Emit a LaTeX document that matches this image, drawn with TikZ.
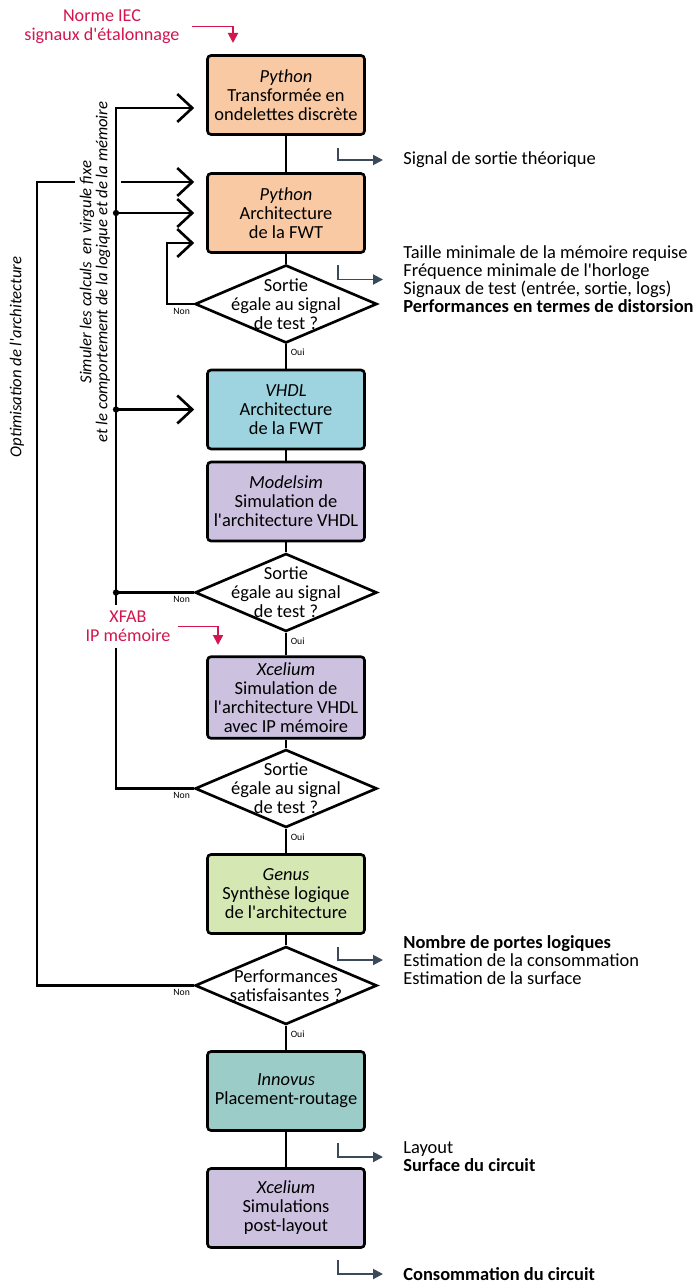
\documentclass[tikz,border=0pt]{standalone}
\usepackage{fontspec}
\setmainfont{Carlito}[Ligatures=TeXOff]
\usetikzlibrary{arrows.meta, shapes.geometric, calc}

\definecolor{peche}{HTML}{F8C9A3}
\definecolor{bleuclair}{HTML}{9DD4E0}
\definecolor{lavande}{HTML}{CCC2E0}
\definecolor{vertclair}{HTML}{D5E8B3}
\definecolor{turquoise}{HTML}{9CCCC8}
\definecolor{rougeiec}{HTML}{D3164F}
\definecolor{ardoise}{HTML}{3B4A59}

\begin{document}
\begin{tikzpicture}[x=0.02cm, y=-0.02cm,
    etape/.style={draw, line width=1.5pt, rounded corners=2pt, minimum width=3.14cm, minimum height=1.58cm, align=center, font=\fontsize{10.5}{10.8}\selectfont},
    test/.style={draw, diamond, line width=1.5pt, minimum width=3.64cm, minimum height=1.56cm, inner sep=0pt},
    texte/.style={align=center, font=\fontsize{10.5}{10.8}\selectfont},
    resultat/.style={anchor=west, inner sep=0pt, align=left, font=\fontsize{10.5}{10.3}\selectfont},
    petit/.style={font=\fontsize{5.5}{6}\selectfont, inner sep=2pt},
    ligne/.style={line width=1.5pt},
    fleche/.style={line width=1.5pt, -{Straight Barb[length=0.3cm, width=0.56cm]}, shorten >=0.24cm},
    sortie/.style={draw=ardoise, line width=1.1pt, -{Triangle[length=0.2cm, width=0.2cm]}, shorten >=0.4cm},
    entree/.style={draw=rougeiec, line width=1.1pt, -{Triangle[length=0.2cm, width=0.2cm]}},
    note/.style={text=rougeiec, align=center, font=\fontsize{10.3}{10.8}\selectfont},
    boucle/.style={rotate=90, align=center, font=\fontsize{9.5}{9.2}\selectfont\itshape}]
    \useasboundingbox (0,0) rectangle (696,1283);

    % etapes du flot
    \node[etape, fill=peche] (b1) at (286,95) {\textit{Python}\\Transformée en\\ondelettes discrète};
    \node[etape, fill=peche] (b2) at (286,213) {\textit{Python}\\Architecture\\de la FWT};
    \node[test, label={[texte]center:Sortie\\égale au signal\\de test ?}] (d1) at (286,304) {};
    \node[etape, fill=bleuclair] (b3) at (286,409.5) {\textit{VHDL}\\Architecture\\de la FWT};
    \node[etape, fill=lavande] (b4) at (286,501.5) {\textit{Modelsim}\\Simulation de\\l'architecture VHDL};
    \node[test, label={[texte]center:Sortie\\égale au signal\\de test ?}] (d2) at (286,592.5) {};
    \node[etape, fill=lavande] (b5) at (286,697.5) {\textit{Xcelium}\\Simulation de\\l'architecture VHDL\\avec IP mémoire};
    \node[test, label={[texte]center:Sortie\\égale au signal\\de test ?}] (d3) at (286,788.5) {};
    \node[etape, fill=vertclair] (b6) at (286,894) {\textit{Genus}\\Synthèse logique\\de l'architecture};
    \node[test, label={[texte]center:Performances\\satisfaisantes ?}] (d4) at (286,985.5) {};
    \node[etape, fill=turquoise] (b7) at (286,1091) {\textit{Innovus}\\Placement-routage};
    \node[etape, fill=lavande] (b8) at (286,1208) {\textit{Xcelium}\\Simulations\\post-layout};

    \draw[ligne] (b1) -- (b2);
    \draw[ligne] (b2) -- (d1);
    \draw[ligne] (d1.south) -- (b3.north) node[pos=0, below right, petit] {Oui};
    \draw[ligne] (b3) -- (b4);
    \draw[ligne] (b4) -- (d2);
    \draw[ligne] (d2.south) -- (b5.north) node[pos=0, below right, petit] {Oui};
    \draw[ligne] (b5) -- (d3);
    \draw[ligne] (d3.south) -- (b6.north) node[pos=0, below right, petit] {Oui};
    \draw[ligne] (b6) -- (d4);
    \draw[ligne] (d4.south) -- (b7.north) node[pos=0, below right, petit] {Oui};
    \draw[ligne] (b7) -- (b8);

    % retours
    \coordinate (retour) at (116,108);
    \coordinate (rebouclage) at (167,243);
    \coordinate (coin) at (37,182);
    \coordinate (saut1) at (75,182);
    \coordinate (saut2) at (121,182);

    \draw[fleche] (d1.west) -| (rebouclage) -- (rebouclage -| b2.west);
    \node[below left, petit] (non1) at (d1.west) {Non};
    \draw[fleche] (d3.west) -| (retour) -- (retour -| b1.west);
    \node[below left, petit] (non3) at (d3.west) {Non};
    \draw[ligne] (d2.west) -- (d2.west -| retour);
    \node[below left, petit] (non2) at (d2.west) {Non};
    \draw[fleche] (retour |- b2.west) -- (b2.west);
    \draw[fleche] (retour |- b3.west) -- (b3.west);
    \fill (retour |- b2.west) circle (1.8pt);
    \fill (retour |- b3.west) circle (1.8pt);
    \fill (d2.west -| retour) circle (1.8pt);

    \draw[ligne] (d4.west) -| (coin) -- (saut1);
    \node[below left, petit] (non4) at (d4.west) {Non};
    \draw[fleche] (saut2) -- (saut2 -| b2.west);

    \node[boucle] (simuler) at (95,272) {Simuler les calculs\ \ en virgule fixe\\et le comportement de la logique et de la mémoire};
    \node[boucle] (optim) at (17,357) {Optimisation de l'architecture};

    % entrees
    \node[note] (norme) at (102,26.5) {Norme IEC\\signaux d'étalonnage};
    \coordinate (iec) at (233,43);
    \draw[entree, shorten <=0.12cm] (norme.east) -| (iec);

    \node[note, fill=white] (xfab) at (128,626.5) {XFAB\\IP mémoire};
    \coordinate (ip) at (218,645);
    \draw[entree, shorten <=0.02cm] (xfab.east) -| (ip);

    % resultats
    \node[resultat] (o1) at (403,160) {Signal de sortie théorique};
    \node[resultat] (o2) at (403,279.5) {Taille minimale de la mémoire requise\\Fréquence minimale de l'horloge\\Signaux de test (entrée, sortie, logs)\\\textbf{Performances en termes de distorsion}};
    \node[resultat] (o3) at (403,960) {\textbf{Nombre de portes logiques}\\Estimation de la consommation\\Estimation de la surface};
    \node[resultat] (o4) at (403,1157) {Layout\\\textbf{Surface du circuit}};
    \node[resultat] (o5) at (403,1274) {\textbf{Consommation du circuit}};

    \coordinate (s1) at (338,148);
    \coordinate (s2) at (338,265);
    \coordinate (s3) at (338,947);
    \coordinate (s4) at (338,1143);
    \coordinate (s5) at (338,1260);
    \draw[sortie] (s1) |- (o1.west);
    \draw[sortie] (s2) |- (o2.west);
    \draw[sortie] (s3) |- (o3.west);
    \draw[sortie] (s4) |- (o4.west);
    \draw[sortie] (s5) |- (o5.west);
\end{tikzpicture}
\end{document}
